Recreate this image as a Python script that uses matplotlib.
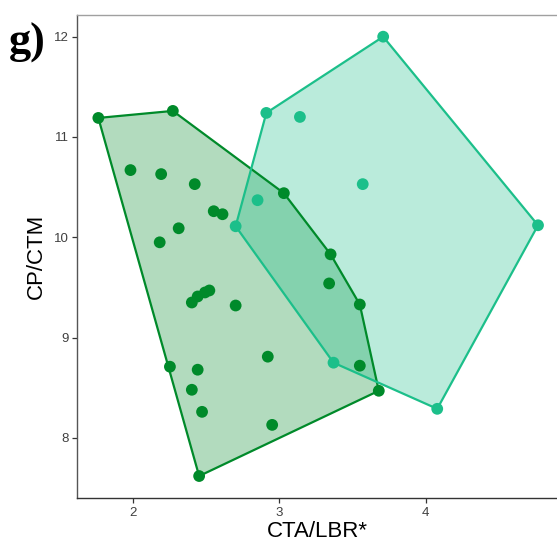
import matplotlib
matplotlib.use("Agg")
import matplotlib.pyplot as plt
from matplotlib.patches import Polygon
import numpy as np

plt.rcParams['font.family'] = ['Liberation Sans', 'DejaVu Sans']

# group 1 (dark green)
cta_a = [1.76, 2.27, 1.98, 2.19, 2.42, 2.55, 2.61, 2.31, 2.18, 3.03, 3.35, 3.34,
         3.55, 3.55, 3.68, 2.45, 2.25, 2.44, 2.40, 2.47, 2.95, 2.92, 2.70, 2.40,
         2.44, 2.49, 2.52]
cp_a = [11.19, 11.26, 10.67, 10.63, 10.53, 10.26, 10.23, 10.09, 9.95, 10.44, 9.83, 9.54,
        9.33, 8.72, 8.47, 7.62, 8.71, 8.68, 8.48, 8.26, 8.13, 8.81, 9.32, 9.35,
        9.41, 9.45, 9.47]

# group 2 (teal)
cta_b = [3.71, 2.91, 3.14, 3.57, 4.77, 2.85, 2.70, 3.37, 4.08]
cp_b = [12.00, 11.24, 11.20, 10.53, 10.12, 10.37, 10.11, 8.75, 8.29]

col_a = '#008a2a'
col_b = '#1cbf8a'


def chull(xs, ys):
    # monotone chain convex hull
    pts = sorted(set(zip(xs, ys)))

    def cross(o, a, b):
        return (a[0] - o[0]) * (b[1] - o[1]) - (a[1] - o[1]) * (b[0] - o[0])

    lower, upper = [], []
    for p in pts:
        while len(lower) >= 2 and cross(lower[-2], lower[-1], p) <= 0:
            lower.pop()
        lower.append(p)
    for p in reversed(pts):
        while len(upper) >= 2 and cross(upper[-2], upper[-1], p) <= 0:
            upper.pop()
        upper.append(p)
    return np.array(lower[:-1] + upper[:-1])


fig = plt.figure(figsize=(5.57, 5.44), dpi=100)
ax = fig.add_axes([0.1388, 0.084, 0.8612, 0.8884])

for xs, ys, c in [(cta_a, cp_a, col_a), (cta_b, cp_b, col_b)]:
    hull = chull(xs, ys)
    ax.add_patch(Polygon(hull, closed=True, facecolor=c, alpha=0.3, edgecolor='none', zorder=1))
    ax.add_patch(Polygon(hull, closed=True, facecolor='none', edgecolor=c, lw=1.6, zorder=2))
    ax.scatter(xs, ys, s=72, color=c, edgecolors='none', zorder=3)

ax.set_xlim(1.616, 4.90)
ax.set_ylim(7.398, 12.216)
ax.set_xticks([2, 3, 4])
ax.set_yticks([8, 9, 10, 11, 12])

ax.spines['right'].set_visible(False)
ax.spines['top'].set_color('#a0a0a0')
ax.spines['left'].set_color('#555555')
ax.spines['bottom'].set_color('#333333')
for s in ['top', 'left', 'bottom']:
    ax.spines[s].set_linewidth(1.0)
ax.tick_params(length=3.5, width=0.9, color='#333333', labelsize=9.5,
               labelcolor='#404040', pad=2.5)

ax.set_xlabel('CTA/LBR*', fontsize=16, labelpad=2)
ax.set_ylabel('CP/CTM', fontsize=16, labelpad=5)

fig.text(0.016, 0.901, 'g)', fontsize=32, fontweight='bold',
         family=['Liberation Serif', 'DejaVu Serif'])

fig.savefig('out.png', dpi=100)
